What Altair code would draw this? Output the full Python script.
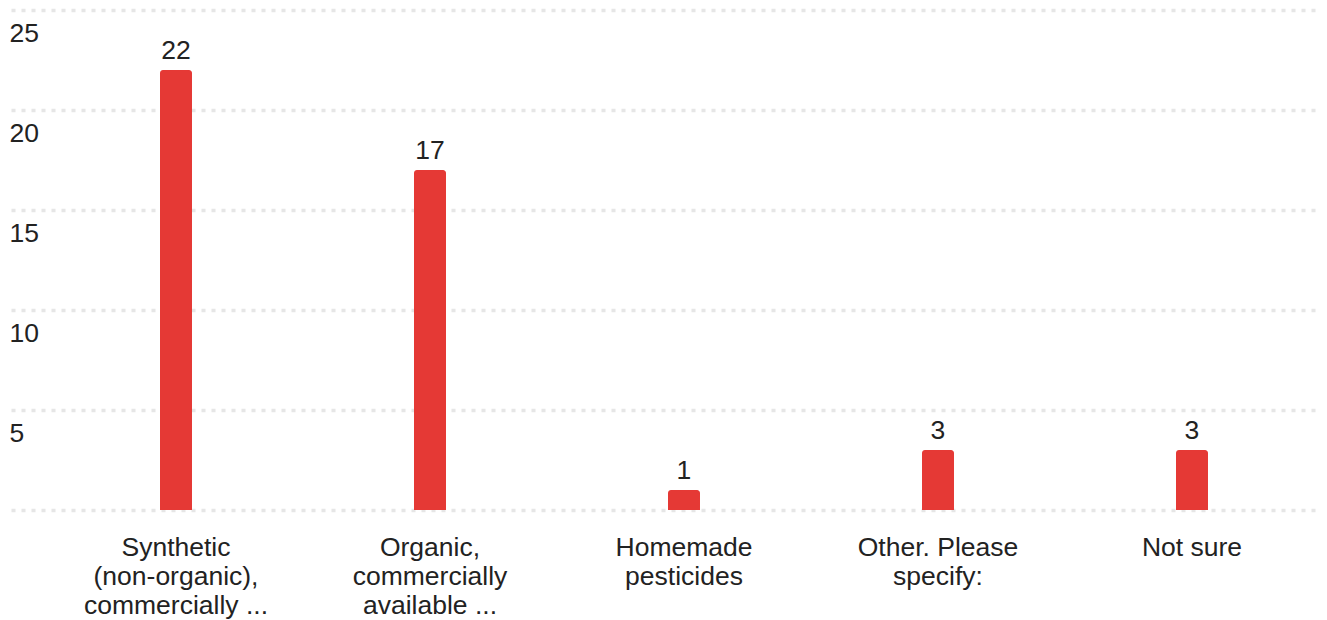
import altair as alt
import pandas as pd

categories = [
    "Synthetic\n(non-organic),\ncommercially ...",
    "Organic,\ncommercially\navailable ...",
    "Homemade\npesticides",
    "Other. Please\nspecify:",
    "Not sure",
]
counts = [22, 17, 1, 3, 3]
y_ticks = [0, 5, 10, 15, 20, 25]

df = pd.DataFrame({"category": categories, "count": counts})

FONT = "Liberation Sans, Arial, Helvetica, sans-serif"
TEXT = "#222222"
RED = "#e53935"
FS = 26.5

x_enc = alt.X(
    "category:N",
    sort=None,
    scale=alt.Scale(paddingInner=0, paddingOuter=0.0748, align=1),
    axis=alt.Axis(
        title=None,
        domain=False,
        ticks=False,
        tickSize=0,
        grid=False,
        labelAngle=0,
        labelPadding=24,
        labelFontSize=FS,
        labelFont=FONT,
        labelColor=TEXT,
        labelLineHeight=29,
        labelLimit=0,
        labelExpr="split(datum.label, '\\n')",
    ),
)
y_enc = alt.Y(
    "count:Q",
    scale=alt.Scale(domain=[0, 25], nice=False, zero=True),
    axis=alt.Axis(
        title=None,
        values=y_ticks,
        domain=False,
        ticks=False,
        tickSize=0,
        grid=True,
        gridColor="#e6e6e6",
        gridDash=[4, 6],
        gridWidth=3.5,
        labelAlign="left",
        labelBaseline="alphabetic",
        labelPadding=2,
        labelOffset=31,
        labelFontSize=FS,
        labelFont=FONT,
        labelColor=TEXT,
        labelExpr="datum.value == 0 ? '' : datum.label",
    ),
)

bars = alt.Chart(df).mark_bar(
    size=32, color=RED, cornerRadiusTopLeft=3, cornerRadiusTopRight=3
).encode(x=x_enc, y=y_enc)

labels = alt.Chart(df).mark_text(
    baseline="alphabetic", dy=-11, fontSize=FS, font=FONT, color=TEXT
).encode(x=x_enc, y=y_enc, text="count:Q")

chart = (
    alt.layer(bars, labels)
    .properties(
        width=1308,
        height=500,
        autosize=alt.AutoSizeParams(type="none"),
        padding={"left": 3, "top": 2, "right": 0, "bottom": 110},
        background="white",
    )
    .configure_view(strokeWidth=0, stroke="transparent")
)

chart.save("out.html", embed_options={"renderer": "svg", "actions": False})
